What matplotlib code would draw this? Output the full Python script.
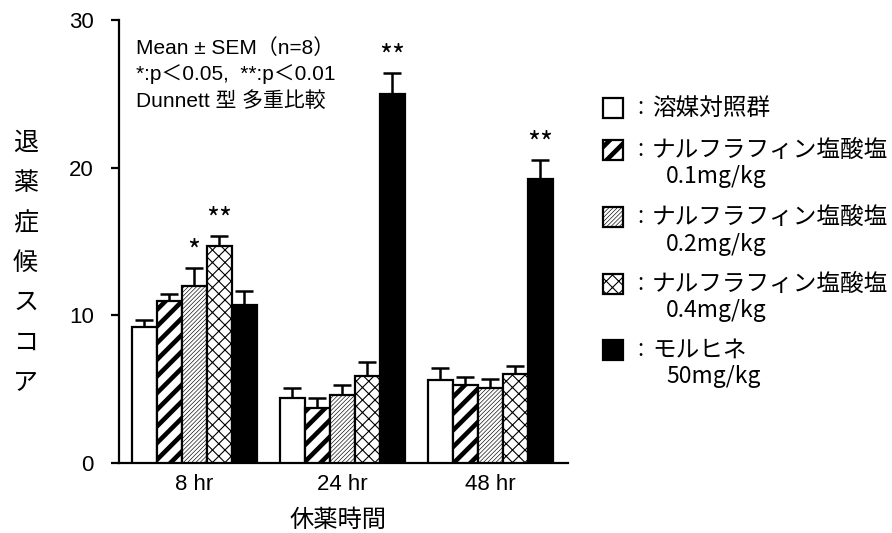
import warnings
warnings.filterwarnings("ignore")
import numpy as np
import matplotlib
matplotlib.use("Agg")
import matplotlib.pyplot as plt
from matplotlib import hatch as mhatch
from matplotlib.patches import Rectangle

# ---------------- data ----------------
time_labels = ["8 hr", "24 hr", "48 hr"]
group_names = ["溶媒対照群", "ナルフラフィン塩酸塩", "ナルフラフィン塩酸塩",
               "ナルフラフィン塩酸塩", "モルヒネ"]
group_doses = ["", "0.1mg/kg", "0.2mg/kg", "0.4mg/kg", "50mg/kg"]
vehicle = [9.2, 4.4, 5.6]
vehicle_sem = [0.5, 0.65, 0.8]
nal_01 = [11.0, 3.7, 5.3]
nal_01_sem = [0.45, 0.7, 0.55]
nal_02 = [12.0, 4.6, 5.1]
nal_02_sem = [1.2, 0.65, 0.6]
nal_04 = [14.7, 5.9, 6.0]
nal_04_sem = [0.65, 0.95, 0.55]
morphine = [10.7, 25.0, 19.2]
morphine_sem = [0.95, 1.4, 1.3]
sig_8hr = ["", "", "*", "**", ""]
sig_24hr = ["", "", "", "", "**"]
sig_48hr = ["", "", "", "", "**"]
y_ticks = [0, 10, 20, 30]

means = [vehicle, nal_01, nal_02, nal_04, morphine]
sems = [vehicle_sem, nal_01_sem, nal_02_sem, nal_04_sem, morphine_sem]
sigs = [sig_8hr, sig_24hr, sig_48hr]

# ------------- custom hatch for medium-density cross -------------
try:
    class _NEk(mhatch.NorthEastHatch):
        def __init__(self, hatch, density):
            n = hatch.count('k') * 16
            self.num_lines = n
            self.num_vertices = (n + 1) * 2 if n else 0

    class _SEk(mhatch.SouthEastHatch):
        def __init__(self, hatch, density):
            n = hatch.count('k') * 16
            self.num_lines = n
            self.num_vertices = (n + 1) * 2 if n else 0

    mhatch._hatch_types.extend([_NEk, _SEk])
    cross_hatch = 'k'
except Exception:
    cross_hatch = 'xx'

styles = [
    dict(fc="white", hatch=None, hlw=1.0),
    dict(fc="white", hatch="//", hlw=3.3),
    dict(fc="white", hatch="////////", hlw=0.45),
    dict(fc="white", hatch=cross_hatch, hlw=0.8),
    dict(fc="black", hatch=None, hlw=1.0),
]

W, H = 892, 533
fig = plt.figure(figsize=(W / 100, H / 100), dpi=100)
fig.patch.set_facecolor("white")


def fx(px):
    return px / W


def fy(py):
    return 1 - py / H


ax = fig.add_axes([fx(119), fy(463), fx(568) - fx(119), fy(20) - fy(463)])

LAT = ["Liberation Sans", "Noto Sans CJK JP"]
JP = ["Noto Sans CJK JP", "DejaVu Sans"]

x = np.arange(len(time_labels))
bw = 0.169
for i, (m, s, st) in enumerate(zip(means, sems, styles)):
    xs = x + (i - 2) * bw
    with plt.rc_context({"hatch.linewidth": st["hlw"]}):
        bars = ax.bar(xs, m, width=bw, facecolor=st["fc"], edgecolor="black",
                      linewidth=1.6, hatch=st["hatch"], zorder=3)
    for b in bars:
        try:
            b.set_hatch_linewidth(st["hlw"])
        except Exception:
            pass
    eb = ax.errorbar(xs, m, yerr=[np.zeros(len(m)), s], fmt="none",
                     ecolor="black", elinewidth=1.8, capsize=6.5,
                     capthick=1.8, zorder=2)
    caps = eb[1]
    if len(caps) >= 2:
        caps[0].set_visible(False)
    for j in range(len(time_labels)):
        lab = sigs[j][i]
        if lab:
            ax.annotate(lab, xy=(xs[j], m[j] + s[j]), xytext=(0, 11),
                        textcoords="offset points", ha="center", va="center",
                        fontsize=20, family=JP)

ax.set_xlim(-0.508, 2.526)
ax.set_ylim(0, 30)
ax.set_yticks(y_ticks)
ax.set_yticklabels([str(t) for t in y_ticks], family=LAT, fontsize=16)
ax.set_xticks(x)
ax.set_xticklabels(time_labels, family=LAT, fontsize=16)
ax.tick_params(axis="x", length=0, pad=8)
ax.tick_params(axis="y", length=6, width=1.6, pad=12, direction="out")
for sp in ["top", "right"]:
    ax.spines[sp].set_visible(False)
for sp in ["left", "bottom"]:
    ax.spines[sp].set_linewidth(1.6)

# x label
fig.text(fx(338), fy(520), "休薬時間", ha="center", va="center",
         fontsize=17.5, family=JP)

# vertical y label
ylabel = "退薬症候スコア"
for k, ch in enumerate(ylabel):
    fig.text(fx(25.5), fy(143 + 40 * k), ch, ha="center", va="center",
             fontsize=18, family=JP)

# annotation text
notes = ["Mean ± SEM（n=8）", "*:p＜0.05,  **:p＜0.01", "Dunnett 型 多重比較"]
for k, t in enumerate(notes):
    fig.text(fx(136), fy(48 + 26.5 * k), t, ha="left", va="center",
             fontsize=15, family=LAT)

# legend
row_y = [108, 150, 217, 284, 350]
for i, st in enumerate(styles):
    yc = row_y[i]
    with plt.rc_context({"hatch.linewidth": st["hlw"]}):
        r = Rectangle((fx(603), fy(yc + 10)), fx(20), 20 / H,
                      transform=fig.transFigure, facecolor=st["fc"],
                      edgecolor="black", linewidth=1.6, hatch=st["hatch"])
    try:
        r.set_hatch_linewidth(st["hlw"])
    except Exception:
        pass
    fig.patches.append(r)
    fig.text(fx(640), fy(yc), ":", ha="center", va="center",
             fontsize=16, family=JP)
    fig.text(fx(652), fy(yc), group_names[i], ha="left", va="center",
             fontsize=17, family=JP)
    if group_doses[i]:
        fig.text(fx(666), fy(yc + 27), group_doses[i], ha="left",
                 va="center", fontsize=16.5, family=JP)

fig.savefig("out.png", dpi=100, facecolor="white")
